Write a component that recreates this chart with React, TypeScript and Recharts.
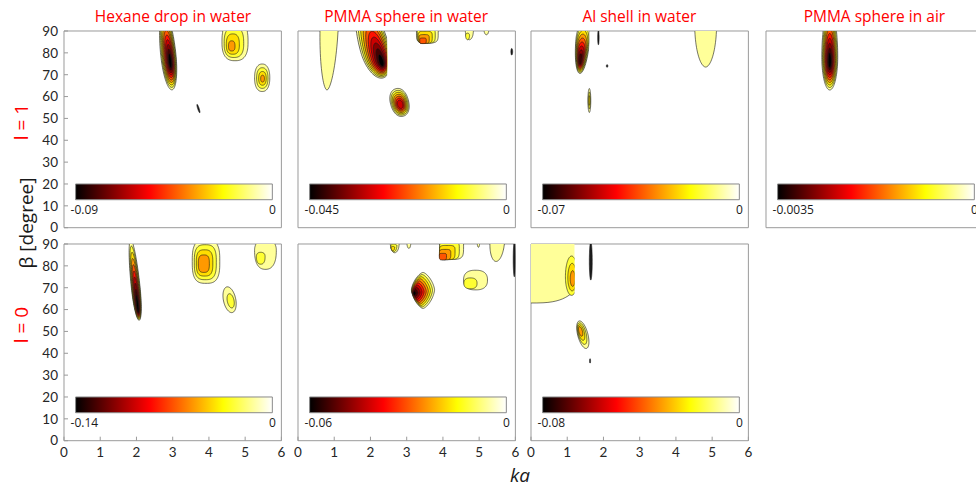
import React, { useMemo } from 'react';
import { ScatterChart, Scatter, XAxis, YAxis, ReferenceArea } from 'recharts';

// plot geometry (px)
const PW = 217.4;
const PH = 196.7;
const KX = PW / 6;
const KY = PH / 90;
const M = { top: 9, right: 10, bottom: 5, left: 10 };
const Y_AXIS_W = 30;
const X_AXIS_H = 25;
const CW = M.left + Y_AXIS_W + PW + 1 + M.right;
const CH = M.top + 1 + PH + X_AXIS_H + M.bottom;

const colLeft = [64.3, 297.5, 530.7, 765.7];
const rowTop = [31, 244.2];

const xTicks = [0, 1, 2, 3, 4, 5, 6];
const yTicks = [0, 10, 20, 30, 40, 50, 60, 70, 80, 90];
const titles = ['Hexane drop in water', 'PMMA sphere in water', 'Al shell in water', 'PMMA sphere in air'];
const rowLabels = ['l = 1', 'l = 0'];
const cbarMinRow1 = ['-0.09', '-0.045', '-0.07', '-0.0035'];
const cbarMinRow2 = ['-0.14', '-0.06', '-0.08'];
const cbarX = [0.32, 5.75];
const cbarY = [12.8, 20];

const LEVELS = 10;
const AXIS = '#9a9a9a';

type Blob = {
  x: number; y: number; rx: number; ryT: number; ryB: number;
  rot?: number; p?: number; n?: number; px?: number; py?: number;
  inner?: number; start?: number; dark?: boolean; cut?: number;
};

// contour blobs (ka, beta)
const hexaneL1: Blob[] = [
  { x: 2.88, y: 79, rx: 0.21, ryT: 20, ryB: 16, rot: -6, n: 10, px: 2.93, py: 76, inner: 0.18 },
  { x: 4.72, y: 85, rx: 0.36, ryT: 10, ryB: 8.6, p: 2.6, n: 4, px: 4.63, py: 83, inner: 0.25 },
  { x: 5.47, y: 68.6, rx: 0.21, ryT: 6.3, ryB: 6.3, p: 2.3, n: 4, px: 5.48, py: 68.2, inner: 0.25 },
  { x: 3.71, y: 54.5, rx: 0.02, ryT: 2, ryB: 2, rot: -18, dark: true },
];
const pmmaWaterL1: Blob[] = [
  { x: 0.86, y: 92, rx: 0.25, ryT: 4, ryB: 29, rot: 2, p: 1.8 },
  { x: 2.12, y: 82, rx: 0.4, ryT: 22, ryB: 14, rot: -16, n: 10, px: 2.3, py: 76, inner: 0.15, cut: 2.46 },
  { x: 3.57, y: 89, rx: 0.3, ryT: 4, ryB: 4.5, p: 4, n: 5, px: 3.45, py: 85.6, inner: 0.3 },
  { x: 4.73, y: 90, rx: 0.11, ryT: 2, ryB: 4, n: 2, px: 4.68, py: 88, inner: 0.5 },
  { x: 5.2, y: 90, rx: 0.06, ryT: 1, ryB: 1.7 },
  { x: 5.9, y: 80.5, rx: 0.025, ryT: 1.5, ryB: 1.5, dark: true },
  { x: 2.8, y: 57.5, rx: 0.25, ryT: 6.3, ryB: 6.7, rot: -15, p: 2.2, n: 7, px: 2.82, py: 56.5, inner: 0.3 },
];
const alL1: Blob[] = [
  { x: 1.43, y: 86, rx: 0.19, ryT: 8, ryB: 15.5, rot: 5, n: 9, px: 1.37, py: 78, inner: 0.2, cut: 1.61 },
  { x: 1.86, y: 87, rx: 0.02, ryT: 3.3, ryB: 3.3, dark: true },
  { x: 2.1, y: 74, rx: 0.02, ryT: 0.6, ryB: 0.6, dark: true },
  { x: 1.61, y: 58.2, rx: 0.04, ryT: 5.5, ryB: 5.5, n: 3, inner: 0.4 },
  { x: 4.82, y: 92, rx: 0.3, ryT: 4, ryB: 18.5, p: 1.9 },
];
const pmmaAirL1: Blob[] = [
  { x: 1.76, y: 78, rx: 0.22, ryT: 22, ryB: 15, n: 10, px: 1.76, py: 76, inner: 0.18 },
];
const hexaneL0: Blob[] = [
  { x: 1.98, y: 70, rx: 0.12, ryT: 22, ryB: 15, rot: -6, n: 10, px: 2.03, py: 62, inner: 0.2 },
  { x: 3.92, y: 82, rx: 0.38, ryT: 10, ryB: 10, p: 3, n: 4, px: 3.86, py: 81, inner: 0.4 },
  { x: 4.57, y: 64.5, rx: 0.17, ryT: 6, ryB: 6, rot: -12, n: 2, px: 4.6, py: 64, inner: 0.55 },
  { x: 5.56, y: 87, rx: 0.3, ryT: 5, ryB: 8.6, p: 2.4, n: 2, px: 5.43, py: 84.2, inner: 0.4 },
];
const pmmaWaterL0: Blob[] = [
  { x: 2.67, y: 90, rx: 0.12, ryT: 1, ryB: 4, n: 3, px: 2.62, py: 88.5, inner: 0.4 },
  { x: 3.06, y: 90, rx: 0.05, ryT: 1, ryB: 2 },
  { x: 4.24, y: 89, rx: 0.33, ryT: 4, ryB: 6, p: 4, n: 5, px: 4.0, py: 84.5, inner: 0.3 },
  { x: 4.98, y: 90, rx: 0.03, ryT: 1, ryB: 1.5 },
  { x: 5.5, y: 91, rx: 0.2, ryT: 2, ryB: 9, rot: 4 },
  { x: 5.97, y: 83, rx: 0.03, ryT: 8, ryB: 8, dark: true },
  { x: 3.45, y: 69, rx: 0.32, ryT: 8, ryB: 8.5, p: 1.5, n: 10, px: 3.22, py: 67.5, inner: 0.1 },
  { x: 4.9, y: 73.5, rx: 0.33, ryT: 4.5, ryB: 4.5, p: 2.5, n: 2, px: 4.76, py: 72, inner: 0.55 },
];
const alL0: Blob[] = [
  { x: 0, y: 90, rx: 1.5, ryT: 1, ryB: 27, p: 3, cut: 1.2 },
  { x: 1.12, y: 75, rx: 0.17, ryT: 9.5, ryB: 8.5, n: 3, start: 1, px: 1.15, py: 74, inner: 0.4, cut: 1.2 },
  { x: 1.65, y: 82, rx: 0.04, ryT: 9, ryB: 8.5, dark: true },
  { x: 1.43, y: 48.5, rx: 0.14, ryT: 6.5, ryB: 6.5, rot: -15, n: 4, px: 1.37, py: 50, inner: 0.35 },
  { x: 1.63, y: 36.5, rx: 0.015, ryT: 1, ryB: 1, dark: true },
];

const panels = [
  { row: 0, col: 0, blobs: hexaneL1, min: cbarMinRow1[0] },
  { row: 0, col: 1, blobs: pmmaWaterL1, min: cbarMinRow1[1] },
  { row: 0, col: 2, blobs: alL1, min: cbarMinRow1[2] },
  { row: 0, col: 3, blobs: pmmaAirL1, min: cbarMinRow1[3] },
  { row: 1, col: 0, blobs: hexaneL0, min: cbarMinRow2[0] },
  { row: 1, col: 1, blobs: pmmaWaterL0, min: cbarMinRow2[1] },
  { row: 1, col: 2, blobs: alL0, min: cbarMinRow2[2] },
];

const clamp = (v: number) => Math.max(0, Math.min(1, v));
// MATLAB "hot"
function hot(t: number) {
  const r = clamp(t / 0.375);
  const g = clamp((t - 0.375) / 0.375);
  const b = clamp((t - 0.75) / 0.25);
  return `rgb(${Math.round(r * 255)},${Math.round(g * 255)},${Math.round(b * 255)})`;
}

function toRings(blobs: Blob[], tag: string) {
  const out: any[] = [];
  blobs.forEach((b, bi) => {
    const n = b.n ?? 1;
    const start = b.start ?? 0;
    const inner = b.inner ?? 0.25;
    const px = b.px ?? b.x;
    const py = b.py ?? b.y;
    for (let k = 0; k < n; k++) {
      const t = n > 1 ? k / (n - 1) : 0;
      const s = 1 - t * (1 - inner);
      out.push({
        x: b.x + (px - b.x) * t,
        y: b.y + (py - b.y) * t,
        rx: b.rx * s,
        ryT: b.ryT * s,
        ryB: b.ryB * s,
        rot: b.rot ?? 0,
        p: b.p ?? 2,
        fill: b.dark ? '#1c1c1c' : hot(1 - (start + k + 1) / LEVELS),
        cut: b.cut,
        key: `${tag}-${bi}-${k}`,
      });
    }
  });
  return out;
}

function ringPath(rx: number, ryT: number, ryB: number, p: number) {
  const e = 2 / p;
  const pts: string[] = [];
  for (let i = 0; i < 90; i++) {
    const a = (i / 90) * Math.PI * 2;
    const c = Math.cos(a);
    const s = Math.sin(a);
    const x = Math.sign(c) * Math.pow(Math.abs(c), e) * rx;
    const y = Math.sign(s) * Math.pow(Math.abs(s), e) * (s < 0 ? ryT : ryB);
    pts.push(`${x.toFixed(2)},${y.toFixed(2)}`);
  }
  return `M${pts.join('L')}Z`;
}

const RingShape = (props: any) => {
  const { cx, cy } = props;
  const r = props.payload ?? props;
  if (cx == null || cy == null) return null;
  const d = ringPath(r.rx * KX, r.ryT * KY, r.ryB * KY, r.p);
  const body = (
    <path d={d} transform={`translate(${cx},${cy}) rotate(${r.rot})`} fill={r.fill} stroke="#1a1a1a" strokeWidth={0.6} />
  );
  if (r.cut == null) return body;
  const cutX = cx + (r.cut - r.x) * KX;
  const id = `cut-${r.key}`;
  return (
    <g>
      <defs>
        <clipPath id={id}>
          <rect x={cutX - 500} y={cy - 500} width={500} height={1000} />
        </clipPath>
      </defs>
      <g clipPath={`url(#${id})`}>{body}</g>
    </g>
  );
};

const tickStyle = { fontSize: 13.5, fill: '#262626', fontFamily: 'Lato' };

function Panel({ row, col, blobs, min }: { row: number; col: number; blobs: Blob[]; min: string }) {
  const rings = useMemo(() => toRings(blobs, `${row}${col}`), [blobs, row, col]);
  const gid = `hot-${row}-${col}`;
  const cbarLabel = (p: any) => {
    const vb = p.viewBox;
    return (
      <g fontFamily="Open Sans" fontSize={12} fill="#1a1a1a">
        <text x={vb.x - 5} y={vb.y + vb.height + 14} textAnchor="start">{min}</text>
        <text x={vb.x + vb.width} y={vb.y + vb.height + 14} textAnchor="middle">0</text>
      </g>
    );
  };
  return (
    <div style={{ position: 'absolute', left: colLeft[col] - M.left - Y_AXIS_W, top: rowTop[row] - M.top - 1 }}>
      <ScatterChart width={CW} height={CH} margin={M}>
        <defs>
          <linearGradient id={gid} x1="0" y1="0" x2="1" y2="0">
            <stop offset="0" stopColor="#000000" />
            <stop offset="0.375" stopColor="#ff0000" />
            <stop offset="0.75" stopColor="#ffff00" />
            <stop offset="1" stopColor="#ffffff" />
          </linearGradient>
        </defs>
        <XAxis
          type="number" dataKey="x" domain={[0, 6]} ticks={xTicks} interval={0} allowDataOverflow
          height={X_AXIS_H} axisLine={{ stroke: AXIS }} tickLine={{ stroke: AXIS }}
          tickSize={-4} tickMargin={11} tick={row === 1 ? tickStyle : false}
        />
        <XAxis
          xAxisId="top" orientation="top" type="number" domain={[0, 6]} ticks={xTicks} interval={0}
          height={1} axisLine={{ stroke: AXIS }} tickLine={{ stroke: AXIS }} tickSize={-4} tick={false}
        />
        <YAxis
          type="number" dataKey="y" domain={[0, 90]} ticks={yTicks} interval={0} allowDataOverflow
          width={Y_AXIS_W} axisLine={{ stroke: AXIS }} tickLine={{ stroke: AXIS }}
          tickSize={-4} tickMargin={10} tick={col === 0 ? tickStyle : false}
        />
        <YAxis
          yAxisId="right" orientation="right" type="number" domain={[0, 90]} ticks={yTicks} interval={0}
          width={1} axisLine={{ stroke: AXIS }} tickLine={{ stroke: AXIS }} tickSize={-4} tick={false}
        />
        <Scatter data={rings} shape={RingShape} isAnimationActive={false} />
        <ReferenceArea
          x1={cbarX[0]} x2={cbarX[1]} y1={cbarY[0]} y2={cbarY[1]}
          fill={`url(#${gid})`} fillOpacity={1} stroke="#8a8a8a" strokeWidth={1}
          label={cbarLabel}
        />
      </ScatterChart>
    </div>
  );
}

export default function App() {
  return (
    <div style={{ position: 'absolute', left: 0, top: 0, width: 976, height: 487, overflow: 'hidden', background: '#fff', fontFamily: 'Open Sans' }}>
      {panels.map((p) => (
        <Panel key={`${p.row}-${p.col}`} {...p} />
      ))}
      {titles.map((t, i) => (
        <div key={t} style={{ position: 'absolute', left: colLeft[i], width: PW, top: 6, lineHeight: '20px', fontSize: 15.5, color: '#ff0000', textAlign: 'center', whiteSpace: 'nowrap' }}>
          {t}
        </div>
      ))}
      {rowLabels.map((t, i) => (
        <div key={t} style={{ position: 'absolute', left: 21, top: i === 0 ? 122 : 325, transform: 'translate(-50%, -50%) rotate(-90deg)', fontSize: 19, color: '#ff0000', whiteSpace: 'nowrap', lineHeight: '22px' }}>
          {t}
        </div>
      ))}
      <div style={{ position: 'absolute', left: 26, top: 223, transform: 'translate(-50%, -50%) rotate(-90deg)', fontSize: 19, color: '#1a1a1a', whiteSpace: 'nowrap', lineHeight: '22px' }}>
        β [degree]
      </div>
      <div style={{ position: 'absolute', left: 520, top: 475, transform: 'translate(-50%, -50%)', fontSize: 19, fontStyle: 'italic', color: '#1a1a1a', lineHeight: '20px' }}>
        ka
      </div>
    </div>
  );
}
